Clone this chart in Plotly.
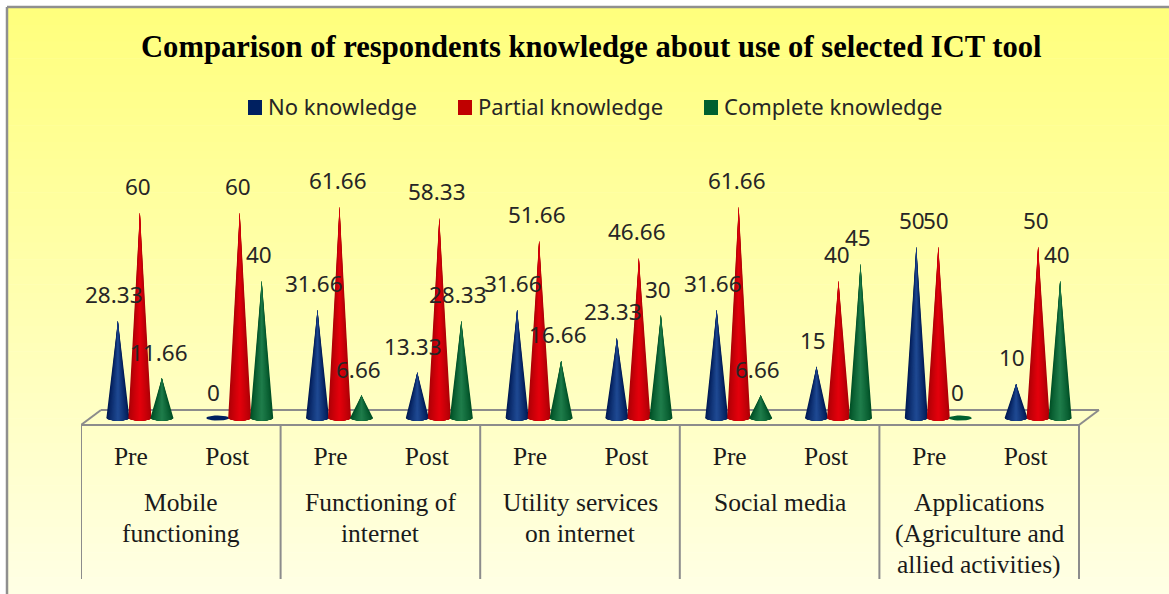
"""Comparison of respondents knowledge: 3D style cone chart drawn with filled scatter traces."""
import math
import plotly.graph_objects as go

GROUPS = [["Mobile", "functioning"], ["Functioning of", "internet"], ["Utility services", "on internet"],
          ["Social media"], ["Applications", "(Agriculture and", "allied activities)"]]
STAGES = ["Pre", "Post"] * 5

NO_KNOWLEDGE = [28.33, 0, 31.66, 13.33, 31.66, 23.33, 31.66, 15, 50, 10]
PARTIAL_KNOWLEDGE = [60, 60, 61.66, 58.33, 51.66, 46.66, 61.66, 40, 50, 50]
COMPLETE_KNOWLEDGE = [11.66, 40, 6.66, 28.33, 16.66, 30, 6.66, 45, 0, 40]

W, H = 1169, 594
PX_PER_X = 99.8    # pixels per Pre/Post slot
PX_PER_Y = 3.43    # pixels per percent
AXIS_LEFT, AXIS_RIGHT = 81, 1079
DEPTH_PX = 20      # floor runs this far right going back
BASE_PX = 418      # pixel row of value 0
FRONT_PX = 425     # pixel row of the front edge of the floor
BACK_PX = 410
TOP_PX = 100
AXIS_BOTTOM_PX = 430
BOTTOM_PX = 579
DEPTH_X = 9 / PX_PER_X     # cones sit back from the front of the floor
CONE_STEP = 22 / PX_PER_X
HALF_W = 11.5 / PX_PER_X
HALF_H = 2.6 / PX_PER_Y
N_LAYERS = 12

GRAY = "#8c8c8c"
TEXT_DARK = "#1a1a1a"
# name, values, swatch, dark edge, light centre, label shift, swatch left pixel, text left pixel
SERIES = [
    ("No knowledge", NO_KNOWLEDGE, "#002060", (0, 26, 84), (30, 72, 145), -4, 248, 268),
    ("Partial knowledge", PARTIAL_KNOWLEDGE, "#c00000", (172, 0, 6), (226, 0, 12), -2, 458, 478),
    ("Complete knowledge", COMPLETE_KNOWLEDGE, "#00602f", (0, 80, 38), (30, 124, 74), -3, 704, 724),
]


def py(px):
    """Turn a pixel row into a paper fraction."""
    return 1 - px / H


def value_at(px):
    return (BASE_PX - px) / PX_PER_Y


def mix(dark, light, k):
    return "rgb(%d,%d,%d)" % tuple(round(d + (l - d) * k) for d, l in zip(dark, light))


def cone_layer(cx, value, width):
    """Cone outline narrowed to a share of its base, tip stays where the value is."""
    xs, ys = [], []
    for i in range(13):
        t = -1 + 2 * i / 12
        xs.append(cx + t * width * HALF_W)
        ys.append(-HALF_H * math.sqrt(max(0.0, 1 - (t * width) ** 2)))
    return xs + [cx, xs[0], None], ys + [value, ys[0], None]


def ellipse(cx):
    xs, ys = [], []
    for i in range(25):
        a = 2 * math.pi * i / 24
        xs.append(cx + HALF_W * math.cos(a))
        ys.append(HALF_H * math.sin(a))
    return xs + [None], ys + [None]


fig = go.Figure()
shapes = []

# background gradient
N_BANDS = 70
for i in range(N_BANDS):
    f = i / (N_BANDS - 1)
    blue = round(125 + (228 - 125) * f)
    shapes.append(dict(type="rect", xref="paper", yref="paper", layer="below", line_width=0,
                       x0=8 / W, x1=1, y0=py(8 + (H - 8) * (i + 1) / N_BANDS) - 0.001,
                       y1=py(8 + (H - 8) * i / N_BANDS), fillcolor="rgb(255,255,%d)" % blue))

for s, (name, values, swatch, dark, light, label_shift, swatch_px, text_px) in enumerate(SERIES):
    offset = DEPTH_X + (s - 1) * CONE_STEP
    centres = [i + offset for i in range(len(values))]

    # base ellipses, these are all that shows for a zero value
    ex, ey = [], []
    for cx in centres:
        a, b = ellipse(cx)
        ex += a
        ey += b
    fig.add_trace(go.Scatter(x=ex, y=ey, mode="lines", fill="toself", fillcolor=swatch, name=name,
                             line=dict(color=swatch, width=0), showlegend=False, hoverinfo="skip"))

    # nested cones from the full width in to the highlight, gives the round shading
    for k in range(N_LAYERS):
        width = 1 - k / N_LAYERS
        colour = mix(dark, light, (k / (N_LAYERS - 1)) ** 0.8)
        xs, ys = [], []
        for cx, v in zip(centres, values):
            if v > 0:
                a, b = cone_layer(cx, v, width)
                xs += a
                ys += b
        fig.add_trace(go.Scatter(x=xs, y=ys, mode="lines", fill="toself", fillcolor=colour, name=name,
                                 line=dict(color=colour, width=0), showlegend=False, hoverinfo="skip"))

    # value labels
    for cx, v in zip(centres, values):
        fig.add_annotation(x=cx, y=v, text=str(v), showarrow=False, xshift=label_shift, yshift=26,
                           font=dict(family="Noto Sans", size=22.5, color="#262626"))

    # legend, spacing of the built in one cannot be made to match
    shapes.append(dict(type="rect", xref="paper", yref="paper", line_width=0, fillcolor=swatch,
                       x0=swatch_px / W, x1=(swatch_px + 14) / W, y0=py(115), y1=py(100)))
    fig.add_annotation(x=text_px / W, xref="paper", xanchor="left", y=py(106), yref="paper", yanchor="middle",
                       text=name, showarrow=False, xshift=-2,
                       font=dict(family="Noto Sans", size=22, color="#262626"))

# group names under the Pre/Post labels
for g, lines in enumerate(GROUPS):
    for n, label in enumerate(lines):
        fig.add_annotation(x=2 * g + 0.5, xref="x", y=py(502 + 31 * n), yref="paper", yanchor="middle",
                           text=label, showarrow=False,
                           font=dict(family="Liberation Serif", size=25.5, color=TEXT_DARK))

fig.add_annotation(x=591 / W, xref="paper", y=py(47), yref="paper", yanchor="middle", showarrow=False,
                   text="<b>Comparison of respondents knowledge about use of selected ICT tool</b>",
                   font=dict(family="Liberation Serif", size=30.6, color="#000000"))

# frame of the chart area
line = dict(color="#8f8f8f", width=2.5)
shapes.append(dict(type="line", xref="paper", yref="paper", x0=7 / W, x1=1, y0=py(7), y1=py(7), line=line))
shapes.append(dict(type="line", xref="paper", yref="paper", x0=7 / W, x1=7 / W, y0=0, y1=py(7), line=line))

# floor outline and the group dividers
floor = dict(color=GRAY, width=2)
front, back = value_at(FRONT_PX), value_at(BACK_PX)
depth = DEPTH_PX / PX_PER_X
shapes.append(dict(type="line", layer="below", x0=-0.5, x1=9.5, y0=front, y1=front, line=floor))
shapes.append(dict(type="line", layer="below", x0=-0.5 + depth, x1=9.5 + depth, y0=back, y1=back, line=floor))
shapes.append(dict(type="line", layer="below", x0=-0.5, x1=-0.5 + depth, y0=front, y1=back, line=floor))
shapes.append(dict(type="line", layer="below", x0=9.5, x1=9.5 + depth, y0=front, y1=back, line=floor))
for g in range(6):
    shapes.append(dict(type="line", layer="below", xref="x", yref="paper", x0=2 * g - 0.5, x1=2 * g - 0.5,
                       y0=py(BOTTOM_PX), y1=py(FRONT_PX), line=floor))

# the Post labels sit a little left of their slot in the reference
tick_positions = [i - 0.035 if i % 2 else i for i in range(10)]

fig.update_layout(
    width=W, height=H, margin=dict(l=0, r=0, t=0, b=0),
    paper_bgcolor="white", plot_bgcolor="rgba(0,0,0,0)",
    shapes=shapes,
    showlegend=False,
    xaxis=dict(domain=[AXIS_LEFT / W, (AXIS_RIGHT + DEPTH_PX + 4) / W], range=[-0.5, 9.5 + (DEPTH_PX + 4) / PX_PER_X],
               showgrid=False, zeroline=False, showline=False, tickmode="array", tickvals=tick_positions,
               ticktext=STAGES, ticks="", ticklabelstandoff=8,
               tickfont=dict(family="Liberation Serif", size=25.5, color=TEXT_DARK)),
    yaxis=dict(domain=[py(AXIS_BOTTOM_PX), py(TOP_PX)], range=[value_at(AXIS_BOTTOM_PX), value_at(TOP_PX)],
               visible=False),
)

fig.write_html("out.html", config={"displayModeBar": False},
               post_script="document.body.style.margin='0';document.body.style.overflow='hidden';")
